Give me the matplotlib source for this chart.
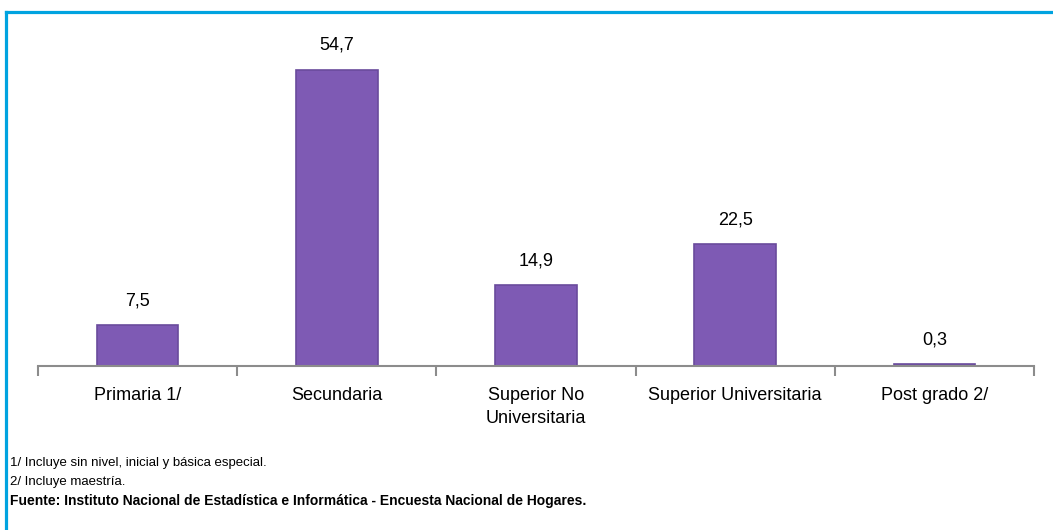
import matplotlib.pyplot as plt
from matplotlib.lines import Line2D

categories = ["Primaria 1/", "Secundaria", "Superior No\nUniversitaria",
              "Superior Universitaria", "Post grado 2/"]
values = [7.5, 54.7, 14.9, 22.5, 0.3]
value_labels = ["7,5", "54,7", "14,9", "22,5", "0,3"]
notes = ["1/ Incluye sin nivel, inicial y básica especial.",
         "2/ Incluye maestría."]
source = "Fuente: Instituto Nacional de Estadística e Informática - Encuesta Nacional de Hogares."

plt.rcParams["font.family"] = ["Liberation Sans", "DejaVu Sans"]

fig = plt.figure(figsize=(10.53, 5.3), dpi=100)
ax = fig.add_axes([38 / 1053, 1 - 366 / 530, 996 / 1053, 324.6 / 530])

x = list(range(len(values)))
ax.bar(x, values, width=0.41, color="#7e5ab4", edgecolor="#6a4b9c", linewidth=1.2)
for xi, v, lab in zip(x, values, value_labels):
    ax.text(xi, v + 3.0, lab, ha="center", va="bottom", fontsize=13)

ax.set_xlim(-0.5, len(values) - 0.5)
ax.set_ylim(0, 60)
for s in ["top", "right", "left"]:
    ax.spines[s].set_visible(False)
ax.spines["bottom"].set_color("#8c8c8c")
ax.spines["bottom"].set_linewidth(1.5)
ax.set_yticks([])
ax.set_xticks(x)
ax.set_xticklabels(categories, fontsize=13, linespacing=1.45)
ax.tick_params(axis="x", which="major", length=0, pad=15)
ax.set_xticks([i - 0.5 for i in range(len(values) + 1)], minor=True)
ax.tick_params(axis="x", which="minor", length=7, width=1.5, color="#8c8c8c", direction="out")

fig.text(10 / 1053, 1 - 463 / 530, notes[0], fontsize=9.5, va="center")
fig.text(10 / 1053, 1 - 482 / 530, notes[1], fontsize=9.5, va="center")
fig.text(10 / 1053, 1 - 501 / 530, source, fontsize=10, va="center", fontweight="bold")

fig.add_artist(Line2D([5.5 / 1053, 1], [1 - 12 / 530, 1 - 12 / 530], color="#00a3e0",
                      linewidth=2.3, transform=fig.transFigure))
fig.add_artist(Line2D([5.5 / 1053, 5.5 / 1053], [0, 1 - 12 / 530], color="#00a3e0",
                      linewidth=2.3, transform=fig.transFigure))

fig.savefig("out.png", dpi=100)
